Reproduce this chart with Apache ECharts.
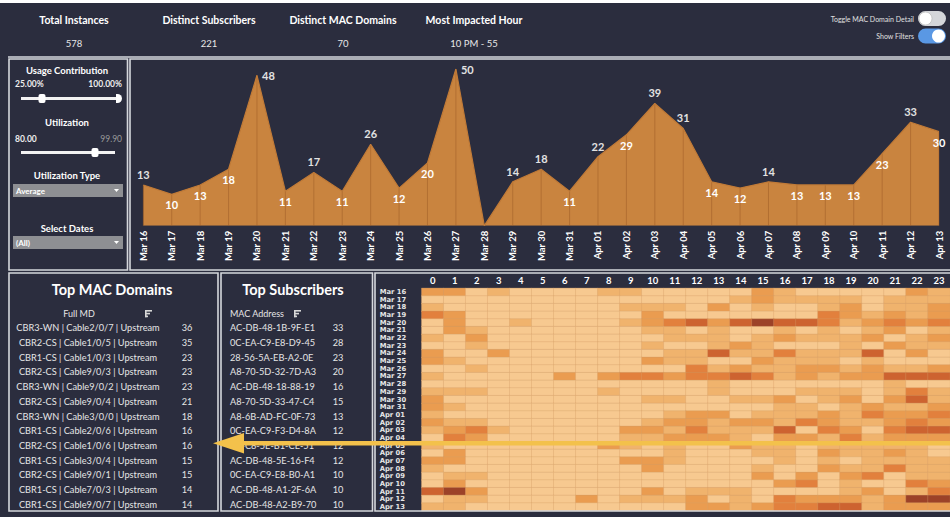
<!DOCTYPE html>
<html><head><meta charset="utf-8">
<script src="https://cdn.jsdelivr.net/npm/echarts@6/dist/echarts.min.js"></script>
<style>html,body{margin:0;padding:0;background:#2b2d3e;}#c{width:950px;height:517px;}</style>
</head><body><div id="c"></div>
<script>
// ---------- data ----------
const kpiTitles = ['Total Instances', 'Distinct Subscribers', 'Distinct MAC Domains', 'Most Impacted Hour'];
const kpiValues = ['578', '221', '70', '10 PM - 55'];

const dates = ['Mar 16','Mar 17','Mar 18','Mar 19','Mar 20','Mar 21','Mar 22','Mar 23','Mar 24','Mar 25','Mar 26','Mar 27','Mar 28','Mar 29','Mar 30','Mar 31','Apr 01','Apr 02','Apr 03','Apr 04','Apr 05','Apr 06','Apr 07','Apr 08','Apr 09','Apr 10','Apr 11','Apr 12','Apr 13'];
const dailyInstances = [13,10,13,18,48,11,17,11,26,12,20,50,0,14,18,11,22,29,39,31,14,12,14,13,13,13,23,33,30];

const hours = ['0','1','2','3','4','5','6','7','8','9','10','11','12','13','14','15','16','17','18','19','20','21','22','23'];
// rows follow `dates`, columns follow `hours`
const hourlyCounts = [
  [2,2,0,1,0,0,0,0,1,1,0, 0,0,0,0,2,1,0,0,0,0,0,2,1],
  [0,0,0,0,0,0,0,0,0,0,0, 0,0,0,1,2,1,1,1,1,0,1,1,1],
  [1,0,0,0,0,0,0,0,0,1,1, 1,0,2,0,1,0,0,1,2,0,1,1,2],
  [3,2,0,0,0,0,0,0,0,0,2, 0,0,0,0,0,0,0,3,2,1,2,1,2],
  [0,2,0,0,1,0,0,0,0,1,2, 3,4,2,4,5,4,4,3,1,2,3,2,3],
  [0,2,1,0,0,0,0,0,0,0,1, 1,0,1,0,0,1,0,1,0,1,2,0,1],
  [1,0,2,0,0,0,0,0,0,0,0, 1,1,1,0,1,2,1,1,1,2,0,1,2],
  [0,0,1,0,0,0,0,0,0,0,1, 0,0,1,2,1,0,0,0,1,0,2,1,1],
  [2,0,0,2,0,0,0,0,0,0,0, 1,1,4,1,1,3,1,1,1,4,0,2,0],
  [2,1,0,0,0,0,0,0,0,0,2, 1,1,0,0,2,1,1,1,0,1,0,0,0],
  [0,0,1,0,0,0,0,0,0,0,0, 0,3,1,2,1,1,2,2,1,2,1,1,2],
  [1,0,0,0,0,0,2,0,2,3,3, 2,3,3,4,3,1,2,1,2,2,4,4,4],
  [0,0,0,0,0,0,0,0,0,0,0, 0,0,1,0,0,0,0,0,0,0,1,0,0],
  [1,1,1,0,0,0,0,0,1,0,0, 0,0,1,0,0,0,1,1,1,0,1,3,1],
  [2,0,0,0,0,0,0,0,0,0,1, 1,0,0,1,1,2,0,1,2,0,2,4,1],
  [2,1,0,0,0,0,0,0,0,0,0, 0,0,0,0,0,1,1,0,1,2,1,1,2],
  [1,0,0,0,0,0,0,0,0,0,0, 1,2,2,0,1,1,1,2,1,3,2,2,3],
  [2,1,1,0,0,0,0,0,0,0,1, 2,2,1,2,2,1,3,2,1,1,2,3,2],
  [1,2,3,1,0,0,0,0,0,2,2, 1,3,1,1,1,4,0,3,2,0,3,4,4],
  [0,3,2,0,0,0,0,0,0,1,1, 2,2,2,1,0,2,2,1,3,1,2,2,2],
  [1,0,0,0,0,0,0,0,2,1,0, 1,0,0,2,1,1,0,1,1,1,1,1,0],
  [0,2,0,0,0,0,0,0,0,0,0, 1,0,0,0,1,1,0,2,1,1,2,1,0],
  [2,2,0,0,0,0,0,0,0,2,2, 1,0,0,0,0,1,0,1,0,1,1,1,1],
  [1,0,0,0,0,0,0,0,0,0,2, 0,0,0,0,1,0,0,2,1,1,3,1,1],
  [0,1,1,0,0,0,0,0,0,0,0, 0,0,0,0,2,0,2,0,2,3,0,1,1],
  [0,2,0,0,0,0,0,0,0,0,0, 0,0,0,0,0,2,3,0,1,0,0,3,2],
  [4,5,2,0,0,0,0,0,0,0,2, 0,1,1,1,0,0,0,0,1,2,0,1,3],
  [0,1,1,0,0,0,0,2,0,1,1, 1,2,0,1,0,3,2,2,2,1,2,5,5],
  [1,1,0,0,0,0,0,0,0,0,0, 0,2,2,1,2,3,3,4,4,1,2,2,2]
];

const mdNames = ['CBR3-WN | Cable2/0/7 | Upstream','CBR2-CS | Cable1/0/5 | Upstream','CBR1-CS | Cable1/0/3 | Upstream','CBR2-CS | Cable9/0/3 | Upstream','CBR3-WN | Cable9/0/2 | Upstream','CBR2-CS | Cable9/0/4 | Upstream','CBR3-WN | Cable3/0/0 | Upstream','CBR1-CS | Cable2/0/6 | Upstream','CBR2-CS | Cable1/0/6 | Upstream','CBR1-CS | Cable3/0/4 | Upstream','CBR2-CS | Cable9/0/1 | Upstream','CBR1-CS | Cable7/0/3 | Upstream','CBR1-CS | Cable9/0/7 | Upstream'];
const mdCounts = [36,35,23,23,23,21,18,16,16,15,15,14,14];

const subMacs = ['AC-DB-48-1B-9F-E1','0C-EA-C9-E8-D9-45','28-56-5A-EB-A2-0E','A8-70-5D-32-7D-A3','AC-DB-48-18-88-19','A8-70-5D-33-47-C4','A8-6B-AD-FC-0F-73','0C-EA-C9-F3-D4-8A','0C-C8-5E-B1-CE-51','AC-DB-48-5E-16-F4','0C-EA-C9-E8-B0-A1','AC-DB-48-A1-2F-6A','AC-DB-48-A2-B9-70'];
const subCounts = [33,28,23,20,16,15,13,12,12,12,10,10,10];

// label placement config for the area chart (style, not data)
const labelAboveDates = ['Mar 16','Mar 22','Mar 24','Mar 29','Mar 30','Apr 01','Apr 03','Apr 04','Apr 07','Apr 12'];
const labelRightDates = ['Mar 20','Mar 27'];

// ---------- drawing ----------
const FONT = 'Lato';
const BG = '#2b2d3e';
const chart = echarts.init(document.getElementById('c'), null, {renderer: 'svg', width: 950, height: 517});
const g = [];
function txt(x, y, s, o) {
  g.push({type: 'text', x: x, y: y, z: 50, silent: true,
    style: Object.assign({text: s, fill: '#ffffff', fontFamily: FONT, fontSize: 10, fontWeight: 'normal', align: 'center', verticalAlign: 'middle'}, o || {})});
}
function rect(x, y, w, h, style, z, r) {
  g.push({type: 'rect', z: z || 40, silent: true, shape: {x: x, y: y, width: w, height: h, r: r || 0}, style: style});
}
// panel borders
const bst = {fill: 'none', stroke: '#d5d7dc', lineWidth: 1.6};
rect(0, 0, 950, 3, {fill: '#ffffff'}, 60);
g.push({type: 'line', z: 60, silent: true, shape: {x1: 8, y1: 57, x2: 950, y2: 57}, style: {stroke: '#d5d7dc', lineWidth: 1.6}});
rect(9, 59, 118.5, 211, bst, 60);
rect(130, 59, 824, 211, bst, 60);
rect(9, 273, 209, 238, bst, 60);
rect(221, 273, 151.5, 238, bst, 60);
rect(375, 273, 579, 238, bst, 60);

// KPI header
const kpiX = [74, 209, 343, 474];
kpiTitles.forEach((t, i) => {
  txt(kpiX[i], 20, t, {fontSize: 10.5, fontWeight: 'bold'});
  txt(kpiX[i], 43.5, kpiValues[i], {fontSize: 9.5, fill: '#e8e8e8'});
});
// toggles
txt(914, 18.5, 'Toggle MAC Domain Detail', {fontSize: 7, align: 'right', fill: '#e0e0e0'});
txt(914, 36, 'Show Filters', {fontSize: 7, align: 'right', fill: '#e0e0e0'});
rect(918, 11, 28, 15, {fill: '#d4d6da'}, 50, 7.5);
g.push({type: 'circle', z: 51, silent: true, shape: {cx: 925.5, cy: 18.5, r: 6.5}, style: {fill: '#ffffff', stroke: '#bbbbbb', lineWidth: 0.8}});
rect(918, 28.5, 28, 15, {fill: '#5a98e4'}, 50, 7.5);
g.push({type: 'circle', z: 51, silent: true, shape: {cx: 938.5, cy: 36, r: 6.5}, style: {fill: '#ffffff'}});

// filter panel
txt(67, 70, 'Usage Contribution', {fontSize: 9.5, fontWeight: 'bold'});
txt(15, 83.5, '25.00%', {fontSize: 8.5, align: 'left', fontWeight: 'bold', fill: '#eeeeee'});
txt(122, 83.5, '100.00%', {fontSize: 8.5, align: 'right', fontWeight: 'bold', fill: '#eeeeee'});
rect(21, 97, 97, 3, {fill: '#f2f2f2'}, 50);
rect(38.5, 94, 7, 9, {fill: '#ffffff'}, 51, 2);
rect(116, 94, 6, 9, {fill: '#ffffff'}, 51, [0, 4.5, 4.5, 0]);
txt(67, 122.5, 'Utilization', {fontSize: 9.5, fontWeight: 'bold'});
txt(15, 138.5, '80.00', {fontSize: 8.5, align: 'left', fontWeight: 'bold', fill: '#eeeeee'});
txt(122, 138.5, '99.90', {fontSize: 8.5, align: 'right', fill: '#9a9a9a'});
rect(21, 151, 94, 3, {fill: '#f2f2f2'}, 50);
rect(91.5, 148, 7, 9, {fill: '#ffffff'}, 51, 2);
txt(67, 175.5, 'Utilization Type', {fontSize: 9.5, fontWeight: 'bold'});
rect(13, 184, 110, 13, {fill: '#8e8f93'}, 50);
txt(16, 190.5, 'Average', {fontSize: 8, align: 'left', fontWeight: 'bold'});
g.push({type: 'polygon', z: 51, silent: true, shape: {points: [[114, 189], [119, 189], [116.5, 192]]}, style: {fill: '#ffffff'}});
txt(67, 228.5, 'Select Dates', {fontSize: 9.5, fontWeight: 'bold'});
rect(13, 236, 110, 13, {fill: '#8e8f93'}, 50);
txt(16, 242.5, '(All)', {fontSize: 8, align: 'left', fontWeight: 'bold'});
g.push({type: 'polygon', z: 51, silent: true, shape: {points: [[114, 241], [119, 241], [116.5, 244]]}, style: {fill: '#ffffff'}});

// tables
function sortIcon(x, y) {
  const st = {fill: '#d8d8d8'};
  rect(x, y, 7, 1.6, st, 50); rect(x, y + 2.8, 5, 1.6, st, 50); rect(x, y + 5.6, 3, 1.6, st, 50); rect(x, y, 1.6, 7.2, st, 50);
}
txt(112, 289.5, 'Top MAC Domains', {fontSize: 14.5, fontWeight: 'bold'});
txt(79, 313.5, 'Full MD', {fontSize: 9, fill: '#e6e6e6'});
sortIcon(145, 310);
mdNames.forEach((n, i) => {
  const y = 327.7 + i * 14.72;
  txt(88, y, n, {fontSize: 9.2, fill: '#e6e6e6'});
  txt(187, y, String(mdCounts[i]), {fontSize: 9.2, fill: '#e6e6e6'});
});
txt(293, 289.5, 'Top Subscribers', {fontSize: 14.5, fontWeight: 'bold'});
txt(230, 313.5, 'MAC Address', {fontSize: 9, align: 'left', fill: '#e6e6e6'});
sortIcon(294, 310);
subMacs.forEach((n, i) => {
  const y = 327.7 + i * 14.72;
  txt(230, y, n, {fontSize: 9.2, align: 'left', fill: '#e6e6e6'});
  txt(338, y, String(subCounts[i]), {fontSize: 9.2, fill: '#e6e6e6'});
});

// annotation arrow
rect(240, 441, 712, 4.4, {fill: '#f3c14b'}, 80);
g.push({type: 'polygon', z: 80, silent: true, shape: {points: [[213, 443.2], [244, 433], [244, 453.5]]}, style: {fill: '#f3c14b'}});

// area chart data items with label placement
const lineData = dailyInstances.map((v, i) => {
  const d = dates[i];
  const pos = labelRightDates.includes(d) ? 'right' : (labelAboveDates.includes(d) ? 'top' : 'bottom');
  return {value: v, label: {show: v > 0, position: pos, color: pos === 'bottom' ? '#ffffff' : '#e2e2e2'}};
});

const heatData = [];
hourlyCounts.forEach((row, r) => row.forEach((v, c) => heatData.push([hours[c], dates[r], v])));

const option = {
  backgroundColor: BG,
  animation: false,
  textStyle: {fontFamily: FONT},
  grid: [
    {left: 143.3, right: 11, top: 69, bottom: 291.3},
    {left: 421.7, right: -2.4, top: 288.3, bottom: 6.3}
  ],
  xAxis: [
    {type: 'category', gridIndex: 0, data: dates, boundaryGap: false,
      axisLine: {show: false}, axisTick: {show: false}, splitLine: {show: false},
      axisLabel: {rotate: 90, interval: 0, margin: 5, color: '#ffffff', fontSize: 9.5, fontWeight: 'bold', fontFamily: FONT}},
    {type: 'category', gridIndex: 1, data: hours, position: 'top',
      axisLine: {show: false}, axisTick: {show: false}, splitLine: {show: false},
      axisLabel: {interval: 0, margin: 3, color: '#ffffff', fontSize: 9.5, fontWeight: 'bold', fontFamily: FONT}}
  ],
  yAxis: [
    {type: 'value', gridIndex: 0, min: 0, max: 50, show: false},
    {type: 'category', gridIndex: 1, data: dates, inverse: true,
      axisLine: {show: false}, axisTick: {show: false}, splitLine: {show: false},
      axisLabel: {interval: 0, align: 'left', margin: 42, color: '#e6e6e6', fontSize: 6.8, fontWeight: 'bold', fontFamily: 'DejaVu Sans', lineHeight: 7}}
  ],
  visualMap: {show: false, type: 'continuous', min: 0, max: 5, seriesIndex: 3, dimension: 2,
    inRange: {color: ['#f7c990', '#f0b36d', '#ea9c50', '#e2803d', '#cd6330', '#9c4228']}},
  series: [
    {type: 'line', xAxisIndex: 0, yAxisIndex: 0, data: dailyInstances, z: 1, symbol: 'none',
      lineStyle: {width: 0}, areaStyle: {color: '#c9843f', opacity: 1}, silent: true},
    {type: 'bar', xAxisIndex: 0, yAxisIndex: 0, data: dailyInstances, z: 2, barWidth: 1,
      itemStyle: {color: 'rgba(150,86,36,0.45)'}, silent: true},
    {type: 'line', xAxisIndex: 0, yAxisIndex: 0, data: lineData, z: 3, symbol: 'circle', symbolSize: 0.1,
      showSymbol: true, itemStyle: {color: 'rgba(0,0,0,0)'},
      lineStyle: {width: 1.2, color: '#c07a37'},
      label: {fontFamily: FONT, fontSize: 11, fontWeight: 'bold', distance: 5}, silent: true},
    {type: 'heatmap', xAxisIndex: 1, yAxisIndex: 1, data: heatData, silent: true,
      itemStyle: {borderColor: 'rgba(214,160,105,0.55)', borderWidth: 0.6}}
  ],
  graphic: {elements: g}
};
chart.setOption(option);
</script>
</body></html>
